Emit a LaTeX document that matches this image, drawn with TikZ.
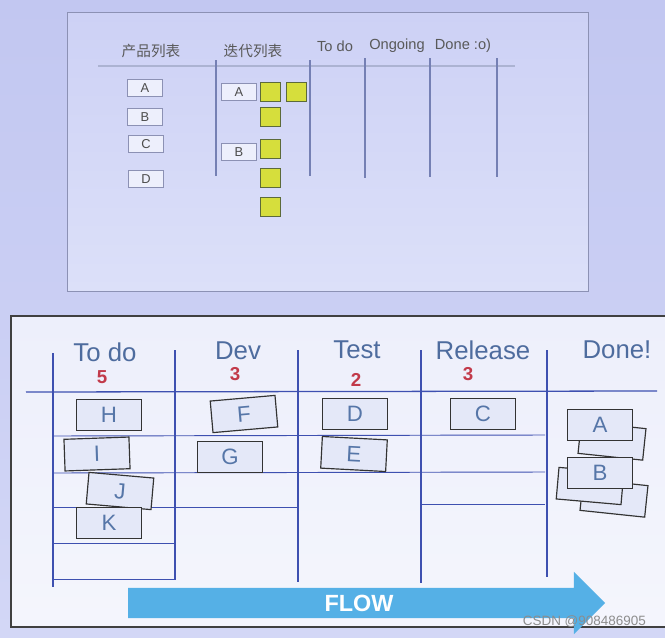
\documentclass[tikz,border=0pt]{standalone}
\usepackage{fontspec}
\setmainfont{Liberation Sans}
\newfontfamily\cjk{Noto Sans CJK SC}
\usepackage{xcolor}
\usepackage{tikz}
\usetikzlibrary{positioning,shapes.arrows}
\definecolor{WallLilac}{HTML}{C2C7F1}
\definecolor{WallLight}{HTML}{D3D7F6}
\definecolor{SlideTop}{HTML}{CDD1F5}
\definecolor{SlideBottom}{HTML}{DCE0F9}
\definecolor{SlideEdge}{HTML}{8C91B4}
\definecolor{SlideLine}{HTML}{7580B4}
\definecolor{BoardFill}{HTML}{EDEFFB}
\definecolor{BoardLine}{HTML}{3E50B0}
\definecolor{CardFill}{HTML}{E4E8F8}
\definecolor{CardInk}{HTML}{5676A8}
\definecolor{HeadInk}{HTML}{4E6C9E}
\definecolor{LimitRed}{HTML}{C23A4A}
\definecolor{TaskYellow}{HTML}{D6DE3C}
\definecolor{TaskEdge}{HTML}{5C6A3A}
\definecolor{FlowBlue}{HTML}{55B0E6}

\begin{document}
\begin{tikzpicture}[
    x=0.03cm, y=-0.03cm,
    lane/.style={draw=BoardLine, line width=1.1pt},
    slideline/.style={draw=SlideLine, line width=0.9pt},
    slidehead/.style={text=black!65, font=\fontsize{12.5}{14}\selectfont},
    colhead/.style={text=HeadInk, font=\fontsize{22}{24}\selectfont},
    wip/.style={text=LimitRed, font=\bfseries\fontsize{16}{18}\selectfont},
    card/.style={draw=black!80, line width=1pt, fill=CardFill, minimum width=1.95cm,
      minimum height=0.95cm, inner sep=0pt, text=CardInk, font=\fontsize{19}{20}\selectfont},
    chip/.style={draw=SlideEdge, line width=0.6pt, fill=SlideBottom!50!white, minimum width=1.05cm,
      minimum height=0.53cm, inner sep=0pt, text=black!70, font=\fontsize{11}{12}\selectfont},
    task/.style={draw=TaskEdge, line width=0.8pt, fill=TaskYellow, minimum width=0.6cm,
      minimum height=0.57cm, inner sep=0pt}
  ]
    \clip (0,0) rectangle (665,638);
    \fill[top color=WallLilac, bottom color=WallLight] (0,0) rectangle (665,638);

    % upper slide: backlog board
    \draw[SlideEdge, line width=0.8pt, top color=SlideTop, bottom color=SlideBottom] (67,12) rectangle (588,291);
    \node[slidehead] (hprod) at (151,51) {\cjk 产品列表};
    \node[slidehead] (hiter) at (253,51) {\cjk 迭代列表};
    \node[slidehead] (htodo) at (335,46) {To do};
    \node[slidehead] (hgoing) at (397,46) {Ongoing};
    \node[slidehead] (hdone) at (463,46) {Done :o)};
    \draw[slideline, draw=SlideLine!60] (98,66) -- (515,66);
    \draw[slideline] (216,60) -- (216,176);
    \draw[slideline] (310,60) -- (310,176);
    \draw[slideline] (365,58) -- (365,178);
    \draw[slideline] (430,58) -- (430,177);
    \draw[slideline] (497,58) -- (497,177);

    \node[chip] (pA) at (145,88) {A};
    \node[chip] (pB) at (145,117) {B};
    \node[chip] (pC) at (146,144) {C};
    \node[chip] (pD) at (146,179) {D};
    \node[chip] (sA) at (239,92) {A};
    \node[chip] (sB) at (239,152) {B};
    \node[task] (tA1) at (270,92) {};
    \node[task] (tA2) at (296,92) {};
    \node[task] (tA3) at (270,117) {};
    \node[task] (tB1) at (270,149) {};
    \node[task] (tB2) at (270,178) {};
    \node[task] (tB3) at (270,207) {};

    % lower slide: kanban board
    \draw[black!75, line width=1pt, top color=BoardFill, bottom color=BoardFill!60!white] (11,316) rectangle (690,627);
    \node[colhead] (todo) at (105,352) {To do};
    \node[colhead] (dev) at (238,351) {Dev};
    \node[colhead] (test) at (357,350) {Test};
    \node[colhead] (release) at (483,350) {Release};
    \node[colhead] (done) at (617,350) {Done!};
    \node[wip] (ltodo) at (102,377) {5};
    \node[wip] (ldev) at (235,374) {3};
    \node[wip] (ltest) at (356,380) {2};
    \node[wip] (lrel) at (468,374) {3};

    \draw[lane] (26,392) -- (657,391);
    \draw[lane] (53,353) -- (53,587);
    \draw[lane] (175,350) -- (175,580);
    \draw[lane] (298,350) -- (298,582);
    \draw[lane] (421,350) -- (421,583);
    \draw[lane] (547,350) -- (547,577);
    \draw[lane, line width=0.8pt] (53,436) -- (545,435);
    \draw[lane, line width=0.8pt] (53,473) -- (545,472);
    \draw[lane, line width=0.8pt] (53,507) -- (298,507);
    \draw[lane, line width=0.8pt] (53,543) -- (175,543);
    \draw[lane, line width=0.8pt] (53,579) -- (175,579);
    \draw[lane, line width=0.8pt] (421,504) -- (545,504);

    \node[card] (H) at (109,415) {H};
    \node[card, rotate=2] (I) at (97,454) {I};
    \node[card, rotate=-5] (J) at (120,491) {J};
    \node[card] (K) at (109,523) {K};
    \node[card, rotate=5] (F) at (244,414) {F};
    \node[card] (G) at (230,457) {G};
    \node[card] (D) at (355,414) {D};
    \node[card, rotate=-3] (E) at (354,454) {E};
    \node[card] (C) at (483,414) {C};
    \node[card, rotate=-6] (doneA2) at (612,441) {};
    \node[card] (A) at (600,425) {A};
    \node[card, rotate=-6] (doneB3) at (614,498) {};
    \node[card, rotate=-5] (doneB2) at (590,486) {};
    \node[card] (B) at (600,473) {B};

    \node[single arrow, fill=FlowBlue, draw=none, inner xsep=2pt, inner ysep=5.8pt,
      text height=14pt, text depth=0pt, minimum height=14.31cm,
      single arrow head extend=0.48cm, single arrow head indent=0pt,
      text=white, font=\bfseries\fontsize{20}{22}\selectfont] (flow) at (359,603) {FLOW};
    \node[text=black!45, font=\fontsize{11.5}{13}\selectfont, anchor=east] (mark) at (650,622) {CSDN @908486905};
  \end{tikzpicture}
\end{document}
